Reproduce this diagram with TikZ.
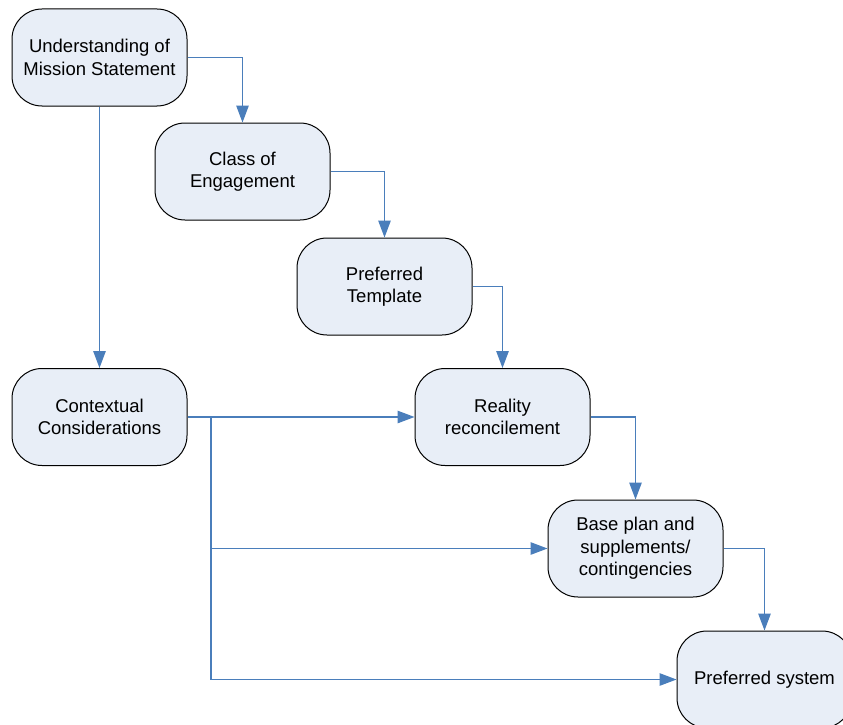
\documentclass[tikz,border=0pt]{standalone}
\usepackage{fontspec}
\setmainfont{Liberation Sans}
\usetikzlibrary{arrows.meta}
\definecolor{boxfill}{HTML}{E8EEF7}
\definecolor{linkblue}{HTML}{4A7EBB}
\tikzset{
  stage/.style={draw=black, line width=1pt, fill=boxfill, rounded corners=30pt,
    minimum width=175pt, minimum height=97pt, align=center,
    font=\fontsize{18.5}{22.5}\selectfont, inner sep=0pt},
  link/.style={draw=linkblue, line width=1.2pt,
    -{Triangle[length=17pt,width=12.5pt]}}
}
\begin{document}
\begin{tikzpicture}[x=1pt,y=-1pt]
  \useasboundingbox (0,0) rectangle (843,725);
  \clip (0,0) rectangle (843,725);
  \node[stage] (mission) at (99.5,57.5) {Understanding of\\Mission Statement};
  \node[stage] (engage) at (242.5,171.5) {Class of\\Engagement};
  \node[stage] (template) at (384.5,286.5) {Preferred\\Template};
  \node[stage] (context) at (99.5,417) {Contextual\\Considerations};
  \node[stage] (reality) at (502.5,417) {Reality\\reconcilement};
  \node[stage] (base) at (635.5,548.5) {Base plan and\\supplements/\\contingencies};
  \node[stage] (system) at (764.5,679.5) {Preferred system};
  \coordinate (split) at (211,417);

  \draw[link] (mission.east) -| (engage.north);
  \draw[link] (mission.south) -- (context.north);
  \draw[link] (engage.east) -| (template.north);
  \draw[link] (template.east) -| (reality.north);
  \draw[link] (context.east) -- (reality.west);
  \draw[link] (split) |- (base.west);
  \draw[link] (split) |- (system.west);
  \draw[link] (reality.east) -| (base.north);
  \draw[link] (base.east) -| (system.north);
\end{tikzpicture}
\end{document}
